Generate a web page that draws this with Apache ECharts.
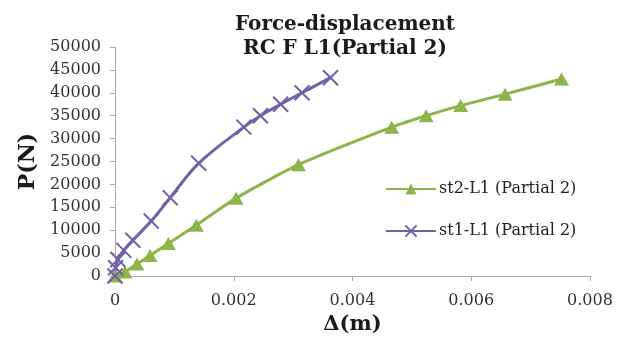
<!DOCTYPE html>
<html lang="en">
<head>
    <meta charset="UTF-8">
    <title>Force-displacement</title>
    <style>
        html, body { margin: 0; padding: 0; background: #fff; }
        #main { width: 618px; height: 340px; }
    </style>
</head>
<body>
    <div id="main"></div>
    <script src="https://cdn.jsdelivr.net/npm/echarts@6/dist/echarts.min.js"></script>
    <script>
        // displacement (m) / force (N)
        var st2X = [0, 0.00017, 0.00037, 0.00059, 0.00090, 0.00137, 0.00204, 0.00309, 0.00466, 0.00524, 0.00582, 0.00657, 0.00752];
        var st2Y = [0, 900, 2600, 4500, 7100, 11100, 17000, 24300, 32500, 35000, 37200, 39700, 43000];
        var st1X = [0, 0.00001, 0.00005, 0.00015, 0.00030, 0.00061, 0.00093, 0.00141, 0.00217, 0.00245, 0.00279, 0.00315, 0.00363];
        var st1Y = [0, 1800, 3600, 5600, 7800, 12000, 17100, 24600, 32500, 35000, 37500, 40000, 43300];
        var xTicks = [0, 0.002, 0.004, 0.006, 0.008];

        function pairs(xs, ys) {
            var out = [];
            for (var i = 0; i < xs.length; i++) out.push([xs[i], ys[i]]);
            return out;
        }

        var serif = '"DejaVu Serif", "Liberation Serif", serif';
        var chart = echarts.init(document.getElementById('main'));
        var option = {
            animation: false,
            backgroundColor: '#fff',
            title: {
                text: 'Force-displacement\nRC F L1(Partial 2)',
                left: 340,
                textAlign: 'center',
                top: 8,
                textStyle: { fontFamily: serif, fontWeight: 'bold', fontSize: 20, lineHeight: 24, color: '#1a1a1a' }
            },
            legend: {
                orient: 'vertical',
                left: 380,
                top: 176,
                itemWidth: 50,
                itemHeight: 14,
                itemGap: 26,
                data: ['st2-L1 (Partial 2)', 'st1-L1 (Partial 2)'],
                textStyle: { fontFamily: serif, fontSize: 16, color: '#222', padding: [0, 0, 0, -2] }
            },
            grid: { left: 115, right: 28, top: 47, bottom: 60 },
            xAxis: {
                type: 'value',
                min: xTicks[0],
                max: xTicks[xTicks.length - 1],
                interval: 0.002,
                name: 'Δ(m)',
                nameLocation: 'middle',
                nameGap: 38,
                nameTextStyle: { fontFamily: serif, fontWeight: 'bold', fontSize: 21, color: '#1a1a1a' },
                axisLine: { lineStyle: { color: '#aaa' } },
                axisTick: { show: true, length: 5, lineStyle: { color: '#aaa' } },
                splitLine: { show: false },
                axisLabel: { fontFamily: serif, fontSize: 16, color: '#333', margin: 17 }
            },
            yAxis: {
                type: 'value',
                min: 0,
                max: 50000,
                interval: 5000,
                name: 'P(N)',
                nameLocation: 'middle',
                nameGap: 68,
                nameTextStyle: { fontFamily: serif, fontWeight: 'bold', fontSize: 22, color: '#1a1a1a' },
                axisLine: { show: true, lineStyle: { color: '#aaa' } },
                axisTick: { show: true, length: 5, lineStyle: { color: '#aaa' } },
                splitLine: { show: false },
                axisLabel: {
                    fontFamily: serif, fontSize: 16, color: '#333', margin: 14,
                    formatter: function (v) { return String(v); }
                }
            },
            series: [
                {
                    name: 'st2-L1 (Partial 2)',
                    type: 'line',
                    data: pairs(st2X, st2Y),
                    smooth: 0.2,
                    symbol: 'triangle',
                    symbolSize: [15, 13],
                    lineStyle: { width: 3, color: '#8db54a' },
                    itemStyle: { color: '#8db54a' }
                },
                {
                    name: 'st1-L1 (Partial 2)',
                    type: 'line',
                    data: pairs(st1X, st1Y),
                    smooth: 0.4,
                    symbol: 'path://M0,0L10,10M10,0L0,10',
                    symbolSize: 15,
                    lineStyle: { width: 3, color: '#7460a6' },
                    itemStyle: { color: '#7460a6', borderColor: '#7460a6', borderWidth: 2 }
                }
            ]
        };
        option && chart.setOption(option);
    </script>
</body>
</html>
